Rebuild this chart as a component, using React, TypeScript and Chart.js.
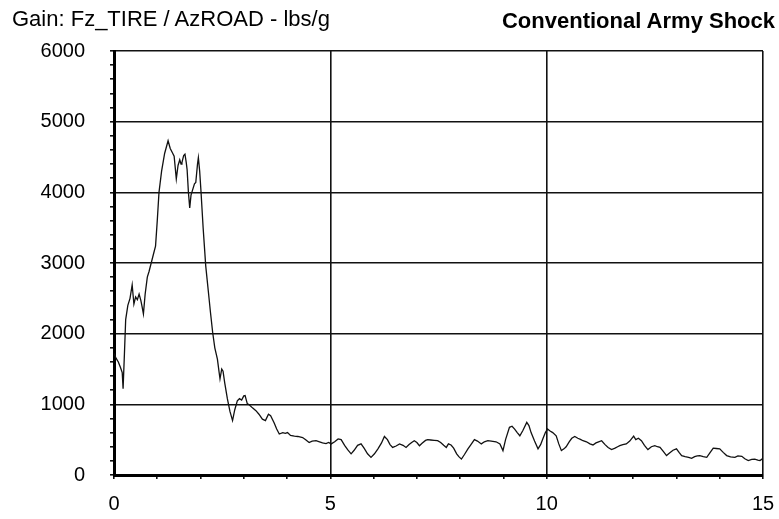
import React, { useEffect, useRef } from 'react';
import { Chart, registerables } from 'chart.js';

Chart.register(...registerables);

const titleLeft = 'Gain: Fz_TIRE / AzROAD - lbs/g';
const titleRight = 'Conventional Army Shock';

const xTickLabels = [0, 5, 10, 15];
const yTickLabels = [0, 1000, 2000, 3000, 4000, 5000, 6000];

const freq = [
  0.0, 0.05, 0.1, 0.15, 0.19, 0.21, 0.24, 0.27, 0.32, 0.37, 0.42, 0.46, 0.5, 0.54, 0.58, 0.62, 0.65, 0.68, 0.72, 0.77,
  0.81, 0.86, 0.91, 0.96, 1.0, 1.04, 1.1, 1.17, 1.25, 1.3, 1.35, 1.39, 1.44, 1.48, 1.52, 1.55, 1.57, 1.61, 1.64, 1.67,
  1.69, 1.72, 1.75, 1.78, 1.81, 1.86, 1.89, 1.93, 1.95, 1.98, 2.01, 2.06, 2.12, 2.18, 2.23, 2.28, 2.33, 2.39, 2.43, 2.45,
  2.49, 2.52, 2.56, 2.62, 2.68, 2.74, 2.79, 2.85, 2.9, 2.95, 3.0, 3.03, 3.08, 3.13, 3.2, 3.28, 3.35, 3.43, 3.5, 3.57,
  3.62, 3.7, 3.76, 3.82, 3.9, 3.96, 4.01, 4.08, 4.17, 4.25, 4.36, 4.43, 4.51, 4.58, 4.67, 4.75, 4.82, 4.9, 4.96, 5.02,
  5.1, 5.18, 5.25, 5.33, 5.4, 5.48, 5.55, 5.63, 5.71, 5.78, 5.86, 5.94, 6.02, 6.1, 6.18, 6.25, 6.32, 6.38, 6.44, 6.52,
  6.6, 6.68, 6.75, 6.82, 6.88, 6.94, 7.0, 7.06, 7.12, 7.2, 7.25, 7.32, 7.4, 7.48, 7.55, 7.62, 7.68, 7.73, 7.79, 7.85,
  7.92, 7.97, 8.03, 8.1, 8.18, 8.25, 8.33, 8.4, 8.49, 8.56, 8.64, 8.72, 8.83, 8.92, 8.99, 9.05, 9.14, 9.2, 9.26, 9.32,
  9.38, 9.45, 9.54, 9.59, 9.64, 9.72, 9.8, 9.86, 9.91, 9.97, 10.02, 10.07, 10.14, 10.22, 10.28, 10.34, 10.4, 10.45, 10.52, 10.58,
  10.65, 10.72, 10.78, 10.84, 10.92, 11.0, 11.07, 11.14, 11.2, 11.27, 11.35, 11.42, 11.5, 11.58, 11.64, 11.69, 11.76, 11.84, 11.92, 12.01,
  12.06, 12.12, 12.19, 12.26, 12.34, 12.42, 12.5, 12.56, 12.62, 12.7, 12.77, 12.84, 12.92, 13.0, 13.06, 13.12, 13.2, 13.28, 13.35, 13.42,
  13.48, 13.54, 13.62, 13.7, 13.78, 13.85, 13.92, 14.0, 14.08, 14.16, 14.25, 14.35, 14.42, 14.51, 14.58, 14.66, 14.74, 14.81, 14.88, 14.93,
  15.0,
];

const gain = [
  1720, 1650, 1600, 1520, 1450, 1220, 1700, 2200, 2400, 2500, 2690, 2420, 2520, 2480, 2560, 2470, 2380, 2280, 2560, 2800,
  2880, 3000, 3120, 3240, 3600, 4000, 4300, 4550, 4730, 4620, 4560, 4510, 4190, 4380, 4460, 4400, 4420, 4520, 4540, 4420,
  4320, 4000, 3780, 3960, 4020, 4120, 4140, 4400, 4490, 4300, 4020, 3500, 2960, 2600, 2300, 2020, 1800, 1640, 1450, 1360,
  1500, 1470, 1300, 1080, 900, 770, 920, 1050, 1080, 1060, 1120, 1125, 1010, 990, 950, 910, 860, 790, 770, 860,
  840, 740, 650, 580, 600, 590, 600, 560, 550, 545, 530, 500, 460, 480, 485, 470, 455, 445, 460, 440,
  470, 510, 500, 420, 360, 300, 350, 420, 440, 380, 300, 250, 300, 370, 450, 545, 500, 430, 390, 410,
  440, 420, 390, 430, 460, 485, 460, 415, 450, 490, 500, 495, 490, 485, 460, 420, 390, 440, 425, 380,
  300, 260, 225, 290, 370, 430, 500, 480, 440, 470, 485, 480, 470, 440, 345, 500, 675, 690, 650, 600,
  555, 630, 745, 700, 600, 480, 370, 430, 510, 600, 650, 625, 600, 555, 440, 345, 370, 400, 470, 520,
  545, 520, 505, 485, 470, 440, 425, 455, 470, 485, 430, 390, 360, 380, 400, 415, 430, 440, 480, 550,
  500, 520, 485, 420, 360, 400, 415, 400, 390, 330, 275, 310, 350, 370, 320, 275, 260, 250, 235, 260,
  270, 275, 260, 250, 320, 380, 375, 370, 320, 275, 255, 250, 270, 265, 230, 205, 220, 225, 210, 205,
  235,
];

const FONT = "'Liberation Sans', Arial, Helvetica, sans-serif";

export default function App() {
  const ref = useRef<HTMLCanvasElement>(null);

  useEffect(() => {
    if (!ref.current) return;
    const chart = new Chart(ref.current, {
      type: 'line',
      data: {
        datasets: [
          {
            data: freq.map((x, i) => ({ x, y: gain[i] })),
            borderColor: '#111',
            borderWidth: 1.3,
            pointRadius: 0,
            tension: 0,
            fill: false,
          },
        ],
      },
      options: {
        animation: false,
        responsive: false,
        maintainAspectRatio: false,
        plugins: { legend: { display: false }, tooltip: { enabled: false }, title: { display: false } },
        layout: { padding: { left: 0, top: 51, right: 16, bottom: 0 } },
        scales: {
          x: {
            type: 'linear',
            min: 0,
            max: 15,
            ticks: {
              stepSize: 1,
              autoSkip: false,
              maxRotation: 0,
              color: '#000',
              font: { family: FONT, size: 20, lineHeight: 2.1 },
              padding: 4,
              callback: (v: any) => (xTickLabels.includes(Number(v)) ? String(v) : ''),
            },
            grid: {
              color: (c: any) => (c.tick && xTickLabels.includes(c.tick.value) ? '#111' : 'rgba(0,0,0,0)'),
              lineWidth: 1.6,
              tickColor: '#111',
              tickLength: 4,
            },
            border: { color: '#000', width: 3 },
            afterFit: (s: any) => {
              s.height = 44;
            },
          },
          y: {
            type: 'linear',
            min: 0,
            max: 6000,
            ticks: {
              stepSize: 200,
              autoSkip: false,
              color: '#000',
              font: { family: FONT, size: 20 },
              padding: 25,
              callback: (v: any) => (yTickLabels.includes(Number(v)) ? String(v) : ''),
            },
            grid: {
              color: (c: any) => (c.tick && yTickLabels.includes(c.tick.value) ? '#111' : 'rgba(0,0,0,0)'),
              lineWidth: 1.6,
              tickColor: '#111',
              tickLength: 4,
            },
            border: { color: '#000', width: 3 },
            afterFit: (s: any) => {
              s.width = 114;
            },
          },
        },
      },
    });
    return () => chart.destroy();
  }, []);

  return (
    <div style={{ position: 'absolute', left: 0, top: 0, width: 779, height: 519, background: '#fff' }}>
      <canvas ref={ref} width={779} height={519} style={{ display: 'block', width: 779, height: 519 }} />
      <div
        style={{
          position: 'absolute',
          left: 12,
          top: 8,
          fontFamily: FONT,
          fontSize: 22,
          lineHeight: 1,
          color: '#000',
          whiteSpace: 'nowrap',
        }}
      >
        {titleLeft}
      </div>
      <div
        style={{
          position: 'absolute',
          right: 4,
          top: 10,
          fontFamily: FONT,
          fontSize: 22,
          fontWeight: 'bold',
          lineHeight: 1,
          color: '#000',
          whiteSpace: 'nowrap',
        }}
      >
        {titleRight}
      </div>
    </div>
  );
}
